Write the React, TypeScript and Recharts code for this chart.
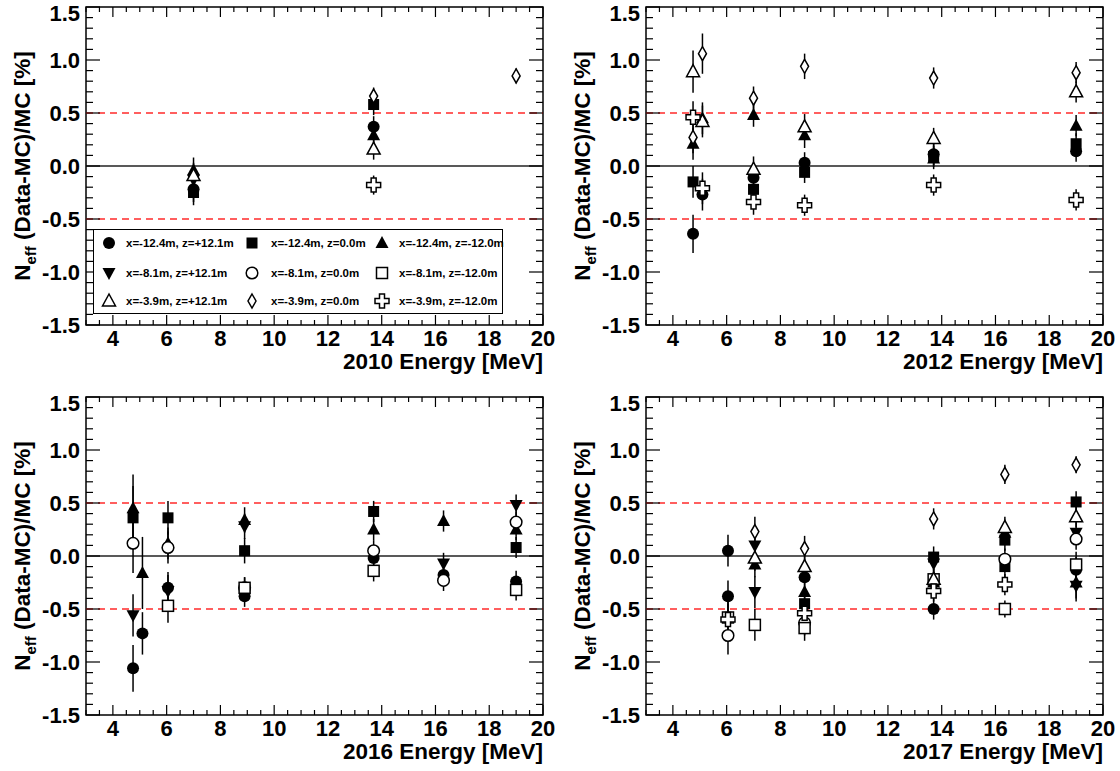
import React from 'react';
import { ScatterChart, Scatter, XAxis, YAxis, ErrorBar, ReferenceLine, ReferenceArea, Legend } from 'recharts';

// Series (position of source): label and marker style
const seriesLabels = [
  'x=-12.4m, z=+12.1m',
  'x=-12.4m, z=0.0m',
  'x=-12.4m, z=-12.0m',
  'x=-8.1m, z=+12.1m',
  'x=-8.1m, z=0.0m',
  'x=-8.1m, z=-12.0m',
  'x=-3.9m, z=+12.1m',
  'x=-3.9m, z=0.0m',
  'x=-3.9m, z=-12.0m',
];
const seriesMarkers = ['circleF', 'squareF', 'triUpF', 'triDownF', 'circleO', 'squareO', 'triUpO', 'diamondO', 'crossO'];

// [seriesIndex, energy (MeV), (Data-MC)/MC (%), error]
const points2010: number[][] = [
  [0, 7.0, -0.22, 0.12], [1, 7.0, -0.25, 0.12], [2, 7.0, -0.04, 0.12], [3, 7.0, -0.13, 0.12], [6, 7.0, -0.09, 0.12],
  [7, 13.7, 0.66, 0.08], [1, 13.7, 0.58, 0.1], [0, 13.7, 0.37, 0.1], [2, 13.7, 0.29, 0.1], [6, 13.7, 0.16, 0.1], [8, 13.7, -0.18, 0.09],
  [7, 19.0, 0.85, 0.07],
];
const points2012: number[][] = [
  [6, 4.75, 0.89, 0.2], [8, 4.75, 0.46, 0.15], [7, 4.75, 0.27, 0.15], [2, 4.75, 0.21, 0.15], [1, 4.75, -0.15, 0.15], [0, 4.75, -0.64, 0.18],
  [7, 5.1, 1.06, 0.19], [2, 5.1, 0.45, 0.15], [6, 5.1, 0.42, 0.15], [8, 5.1, -0.21, 0.15], [0, 5.1, -0.27, 0.15],
  [7, 7.0, 0.64, 0.11], [2, 7.0, 0.48, 0.11], [6, 7.0, -0.03, 0.12], [0, 7.0, -0.11, 0.12], [1, 7.0, -0.22, 0.12], [8, 7.0, -0.34, 0.12],
  [7, 8.9, 0.94, 0.12], [6, 8.9, 0.37, 0.12], [2, 8.9, 0.29, 0.12], [0, 8.9, 0.03, 0.1], [1, 8.9, -0.06, 0.1], [8, 8.9, -0.37, 0.1],
  [7, 13.7, 0.83, 0.1], [6, 13.7, 0.26, 0.1], [0, 13.7, 0.11, 0.1], [1, 13.7, 0.09, 0.1], [2, 13.7, 0.07, 0.1], [8, 13.7, -0.18, 0.1],
  [7, 19.0, 0.88, 0.1], [6, 19.0, 0.7, 0.1], [2, 19.0, 0.38, 0.1], [1, 19.0, 0.21, 0.1], [0, 19.0, 0.14, 0.1], [8, 19.0, -0.32, 0.1],
];
const points2016: number[][] = [
  [2, 4.75, 0.45, 0.32], [1, 4.75, 0.36, 0.3], [4, 4.75, 0.12, 0.28], [3, 4.75, -0.56, 0.2], [0, 4.75, -1.06, 0.22],
  [2, 5.1, -0.16, 0.34], [0, 5.1, -0.73, 0.2],
  [1, 6.05, 0.36, 0.16], [2, 6.05, 0.12, 0.15], [4, 6.05, 0.08, 0.15], [3, 6.05, -0.33, 0.15], [0, 6.05, -0.3, 0.15], [5, 6.05, -0.47, 0.16],
  [2, 8.9, 0.34, 0.12], [3, 8.9, 0.28, 0.12], [1, 8.9, 0.05, 0.12], [4, 8.9, -0.3, 0.1], [5, 8.9, -0.3, 0.1], [0, 8.9, -0.38, 0.1],
  [1, 13.7, 0.42, 0.1], [2, 13.7, 0.25, 0.1], [4, 13.7, 0.05, 0.1], [0, 13.7, -0.02, 0.1], [5, 13.7, -0.14, 0.1],
  [2, 16.3, 0.33, 0.1], [3, 16.3, -0.07, 0.1], [0, 16.3, -0.18, 0.1], [4, 16.3, -0.23, 0.1],
  [3, 19.0, 0.48, 0.1], [4, 19.0, 0.32, 0.1], [2, 19.0, 0.25, 0.1], [1, 19.0, 0.08, 0.1], [0, 19.0, -0.24, 0.1], [5, 19.0, -0.32, 0.1],
];
const points2017: number[][] = [
  [0, 6.05, 0.05, 0.15], [0, 6.05, -0.38, 0.15], [5, 6.05, -0.58, 0.15], [8, 6.05, -0.6, 0.15], [4, 6.05, -0.75, 0.18],
  [7, 7.05, 0.23, 0.14], [3, 7.05, 0.1, 0.12], [6, 7.05, -0.02, 0.12], [2, 7.05, -0.08, 0.12], [3, 7.05, -0.34, 0.15], [5, 7.05, -0.65, 0.15],
  [7, 8.9, 0.07, 0.12], [6, 8.9, -0.1, 0.12], [0, 8.9, -0.2, 0.12], [2, 8.9, -0.34, 0.12], [1, 8.9, -0.45, 0.12], [8, 8.9, -0.54, 0.12], [4, 8.9, -0.63, 0.12], [5, 8.9, -0.68, 0.12],
  [7, 13.7, 0.35, 0.1], [1, 13.7, -0.01, 0.1], [3, 13.7, -0.07, 0.1], [5, 13.7, -0.22, 0.1], [6, 13.7, -0.22, 0.1], [2, 13.7, -0.25, 0.1], [8, 13.7, -0.33, 0.1], [0, 13.7, -0.5, 0.1],
  [7, 16.35, 0.77, 0.09], [6, 16.35, 0.27, 0.1], [2, 16.35, 0.22, 0.1], [1, 16.35, 0.15, 0.1], [4, 16.35, -0.03, 0.1], [1, 16.35, -0.1, 0.1], [8, 16.35, -0.27, 0.1], [5, 16.35, -0.5, 0.08],
  [7, 19.0, 0.86, 0.08], [1, 19.0, 0.51, 0.1], [6, 19.0, 0.37, 0.1], [3, 19.0, 0.22, 0.1], [4, 19.0, 0.16, 0.1], [5, 19.0, -0.08, 0.12], [0, 19.0, -0.13, 0.12], [2, 19.0, -0.25, 0.15], [3, 19.0, -0.28, 0.15],
];

const xMajorTicks = [4, 6, 8, 10, 12, 14, 16, 18, 20];
const yMajorTicks = [-1.5, -1.0, -0.5, 0.0, 0.5, 1.0, 1.5];
const xTicks: number[] = [];
for (let i = 6; i <= 40; i++) xTicks.push(i / 2);
const yTicks: number[] = [];
for (let i = -15; i <= 15; i++) yTicks.push(i / 10);

const W = 560;
const H = 390;
const M_TOP = 7;
const M_RIGHT = 17;
const Y_W = 86;
const X_H = 65;
const PLOT_W = W - Y_W - M_RIGHT;
const PLOT_H = H - M_TOP - X_H;
const FONT = '"Liberation Sans", Arial, Helvetica, sans-serif';
const TICK_FS = 22;
const TITLE_FS = 22.5;

function Marker({ kind, cx, cy }: { kind: string; cx: number; cy: number }) {
  const sw = 1.5;
  switch (kind) {
    case 'circleF':
      return <circle cx={cx} cy={cy} r={6} fill="#000" />;
    case 'squareF':
      return <rect x={cx - 5.5} y={cy - 5.5} width={11} height={11} fill="#000" />;
    case 'triUpF':
      return <polygon points={`${cx},${cy - 7} ${cx - 6.5},${cy + 5} ${cx + 6.5},${cy + 5}`} fill="#000" />;
    case 'triDownF':
      return <polygon points={`${cx},${cy + 7} ${cx - 6.5},${cy - 5} ${cx + 6.5},${cy - 5}`} fill="#000" />;
    case 'circleO':
      return <circle cx={cx} cy={cy} r={5.8} fill="#fff" stroke="#000" strokeWidth={sw} />;
    case 'squareO':
      return <rect x={cx - 5.5} y={cy - 5.5} width={11} height={11} fill="#fff" stroke="#000" strokeWidth={sw} />;
    case 'triUpO':
      return <polygon points={`${cx},${cy - 7} ${cx - 6.5},${cy + 5} ${cx + 6.5},${cy + 5}`} fill="#fff" stroke="#000" strokeWidth={sw} />;
    case 'diamondO':
      return <polygon points={`${cx},${cy - 7} ${cx + 4},${cy} ${cx},${cy + 7} ${cx - 4},${cy}`} fill="#fff" stroke="#000" strokeWidth={sw} />;
    case 'crossO': {
      const a = 2.5;
      const b = 7;
      const d = `M${cx - a},${cy - b}H${cx + a}V${cy - a}H${cx + b}V${cy + a}H${cx + a}V${cy + b}H${cx - a}V${cy + a}H${cx - b}V${cy - a}H${cx - a}Z`;
      return <path d={d} fill="#fff" stroke="#000" strokeWidth={sw} />;
    }
    default:
      return null;
  }
}

function XTick(props: any) {
  const { x, y, payload } = props;
  const v = payload.value as number;
  const major = xMajorTicks.some((t) => Math.abs(t - v) < 1e-6);
  const len = major ? 10 : 5;
  return (
    <g>
      <line x1={x} y1={y} x2={x} y2={y - len} stroke="#000" strokeWidth={1.2} />
      <line x1={x} y1={y - PLOT_H} x2={x} y2={y - PLOT_H + len} stroke="#000" strokeWidth={1.2} />
      {major && (
        <text x={x} y={y + 13} textAnchor="middle" dominantBaseline="central" fontFamily={FONT} fontWeight="bold" fontSize={TICK_FS} fill="#000">
          {v}
        </text>
      )}
    </g>
  );
}

function YTick(props: any) {
  const { x, y, payload } = props;
  const v = payload.value as number;
  const major = yMajorTicks.some((t) => Math.abs(t - v) < 1e-6);
  const len = major ? 14 : 7;
  const labelY = Math.max(y, 13.5);
  return (
    <g>
      <line x1={x} y1={y} x2={x + len} y2={y} stroke="#000" strokeWidth={1.2} />
      <line x1={x + PLOT_W} y1={y} x2={x + PLOT_W - len} y2={y} stroke="#000" strokeWidth={1.2} />
      {major && (
        <text x={x - 6} y={labelY} textAnchor="end" dominantBaseline="central" fontFamily={FONT} fontWeight="bold" fontSize={TICK_FS} fill="#000">
          {v.toFixed(1)}
        </text>
      )}
    </g>
  );
}

const legendCols = [15, 158, 288];
const legendTextCols = [32, 177, 305];
const legendRows = [13, 43, 71];

function LegendBox() {
  return (
    <div style={{ position: 'relative', width: 410, height: 85, border: '1.5px solid #000', boxSizing: 'border-box', background: '#fff' }}>
      {seriesLabels.map((lab, i) => {
        const col = i % 3;
        const row = Math.floor(i / 3);
        return (
          <React.Fragment key={i}>
            <svg width={18} height={18} style={{ position: 'absolute', left: legendCols[col] - 9, top: legendRows[row] - 9 }}>
              <Marker kind={seriesMarkers[i]} cx={9} cy={9} />
            </svg>
            <div style={{ position: 'absolute', left: legendTextCols[col], top: legendRows[row] - 8, fontFamily: FONT, fontWeight: 'bold', fontSize: 11.5, lineHeight: '16px', whiteSpace: 'nowrap', color: '#000' }}>
              {lab}
            </div>
          </React.Fragment>
        );
      })}
    </div>
  );
}

function buildSeries(points: number[][]) {
  return seriesMarkers.map((_, i) => points.filter((p) => p[0] === i).map((p) => ({ x: p[1], y: p[2], err: p[3] })));
}

function Panel({ points, year, left, top, showLegend }: { points: number[][]; year: string; left: number; top: number; showLegend?: boolean }) {
  const series = buildSeries(points);
  return (
    <div style={{ position: 'absolute', left, top, width: W, height: H }}>
      <ScatterChart width={W} height={H} margin={{ top: M_TOP, right: M_RIGHT, bottom: 0, left: 0 }}>
        <XAxis type="number" dataKey="x" domain={[3, 20]} ticks={xTicks} interval={0} tick={XTick} tickLine={false} axisLine={false} tickSize={0} tickMargin={0} height={X_H} allowDataOverflow />
        <YAxis type="number" dataKey="y" domain={[-1.5, 1.5]} ticks={yTicks} interval={0} tick={YTick} tickLine={false} axisLine={false} tickSize={0} tickMargin={0} width={Y_W} allowDataOverflow />
        <ReferenceArea x1={3} x2={20} y1={-1.5} y2={1.5} fill="none" fillOpacity={0} stroke="#000" strokeWidth={1.5} ifOverflow="visible" />
        <ReferenceLine y={0} stroke="#222" strokeWidth={1.5} />
        <ReferenceLine y={0.5} stroke="#ff2a2a" strokeWidth={1.5} strokeDasharray="7 5" />
        <ReferenceLine y={-0.5} stroke="#ff2a2a" strokeWidth={1.5} strokeDasharray="7 5" />
        {series.map((d, i) => (
          <Scatter
            key={i}
            name={seriesLabels[i]}
            data={d}
            isAnimationActive={false}
            shape={(p: any) => <Marker kind={seriesMarkers[i]} cx={p.cx} cy={p.cy} />}
          >
            <ErrorBar dataKey="err" direction="y" width={0} stroke="#000" strokeWidth={1.5} />
          </Scatter>
        ))}
        {showLegend && (
          <Legend
            layout="vertical"
            align="center"
            verticalAlign="middle"
            wrapperStyle={{ position: 'absolute', left: 93, top: 229, width: 410, height: 85 }}
            content={() => <LegendBox />}
          />
        )}
      </ScatterChart>
      <div
        style={{
          position: 'absolute',
          left: 0,
          width: Y_W + PLOT_W,
          top: 349,
          textAlign: 'right',
          fontFamily: FONT,
          fontWeight: 'bold',
          fontSize: TITLE_FS,
          lineHeight: '26px',
          color: '#000',
          whiteSpace: 'nowrap',
        }}
      >
        {year} Energy [MeV]
      </div>
      <div
        style={{
          position: 'absolute',
          left: 23 - PLOT_H / 2,
          top: M_TOP + PLOT_H / 2 - 15,
          width: PLOT_H,
          height: 30,
          transform: 'rotate(-90deg)',
          transformOrigin: 'center center',
          textAlign: 'center',
          fontFamily: FONT,
          fontWeight: 'bold',
          fontSize: TITLE_FS,
          lineHeight: '30px',
          color: '#000',
          whiteSpace: 'nowrap',
        }}
      >
        N<span style={{ fontSize: 15, position: 'relative', top: 6 }}>eff</span> (Data-MC)/MC [%]
      </div>
    </div>
  );
}

export default function App() {
  return (
    <div style={{ position: 'absolute', left: 0, top: 0, width: 1120, height: 771, background: '#fff', overflow: 'hidden' }}>
      <Panel points={points2010} year="2010" left={0} top={0} showLegend />
      <Panel points={points2012} year="2012" left={560} top={0} />
      <Panel points={points2016} year="2016" left={0} top={390} />
      <Panel points={points2017} year="2017" left={560} top={390} />
    </div>
  );
}
